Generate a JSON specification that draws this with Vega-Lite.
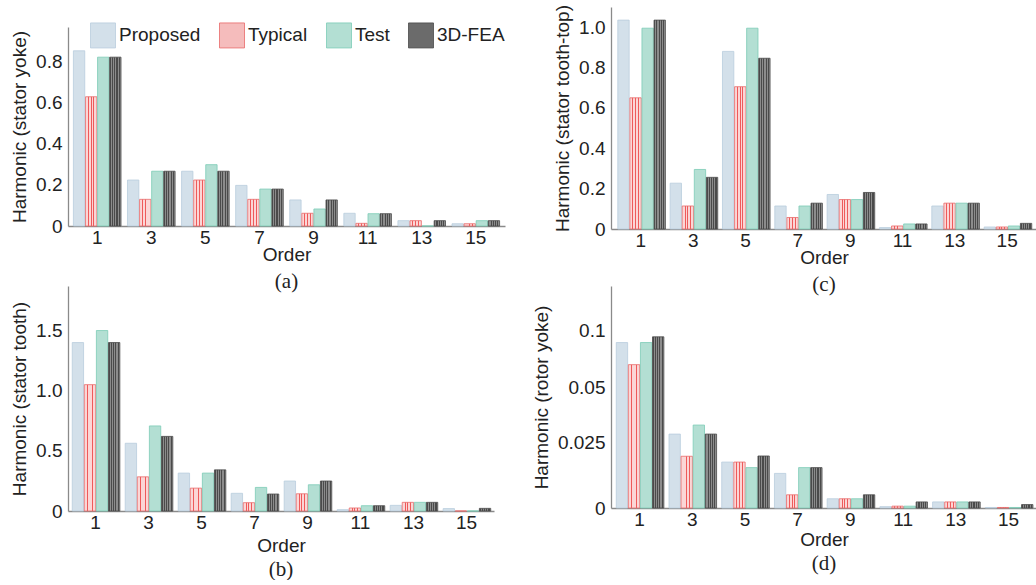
{
  "$schema": "https://vega.github.io/schema/vega-lite/v6.json",
  "padding": {"left": 10, "top": 4, "right": 0, "bottom": 0},
  "background": "white",
  "data": {"values": [
    {"panel": "a", "order": 1, "series": "Proposed", "value": 0.854},
    {"panel": "a", "order": 1, "series": "Typical", "value": 0.63},
    {"panel": "a", "order": 1, "series": "Test", "value": 0.823},
    {"panel": "a", "order": 1, "series": "3D-FEA", "value": 0.823},
    {"panel": "a", "order": 3, "series": "Proposed", "value": 0.224},
    {"panel": "a", "order": 3, "series": "Typical", "value": 0.13},
    {"panel": "a", "order": 3, "series": "Test", "value": 0.267},
    {"panel": "a", "order": 3, "series": "3D-FEA", "value": 0.267},
    {"panel": "a", "order": 5, "series": "Proposed", "value": 0.267},
    {"panel": "a", "order": 5, "series": "Typical", "value": 0.224},
    {"panel": "a", "order": 5, "series": "Test", "value": 0.299},
    {"panel": "a", "order": 5, "series": "3D-FEA", "value": 0.267},
    {"panel": "a", "order": 7, "series": "Proposed", "value": 0.198},
    {"panel": "a", "order": 7, "series": "Typical", "value": 0.13},
    {"panel": "a", "order": 7, "series": "Test", "value": 0.18},
    {"panel": "a", "order": 7, "series": "3D-FEA", "value": 0.18},
    {"panel": "a", "order": 9, "series": "Proposed", "value": 0.127},
    {"panel": "a", "order": 9, "series": "Typical", "value": 0.062},
    {"panel": "a", "order": 9, "series": "Test", "value": 0.083},
    {"panel": "a", "order": 9, "series": "3D-FEA", "value": 0.127},
    {"panel": "a", "order": 11, "series": "Proposed", "value": 0.062},
    {"panel": "a", "order": 11, "series": "Typical", "value": 0.013},
    {"panel": "a", "order": 11, "series": "Test", "value": 0.06},
    {"panel": "a", "order": 11, "series": "3D-FEA", "value": 0.06},
    {"panel": "a", "order": 13, "series": "Proposed", "value": 0.026},
    {"panel": "a", "order": 13, "series": "Typical", "value": 0.026},
    {"panel": "a", "order": 13, "series": "Test", "value": 0},
    {"panel": "a", "order": 13, "series": "3D-FEA", "value": 0.026},
    {"panel": "a", "order": 15, "series": "Proposed", "value": 0.011},
    {"panel": "a", "order": 15, "series": "Typical", "value": 0.011},
    {"panel": "a", "order": 15, "series": "Test", "value": 0.026},
    {"panel": "a", "order": 15, "series": "3D-FEA", "value": 0.026},

    {"panel": "c", "order": 1, "series": "Proposed", "value": 1.035},
    {"panel": "c", "order": 1, "series": "Typical", "value": 0.65},
    {"panel": "c", "order": 1, "series": "Test", "value": 0.995},
    {"panel": "c", "order": 1, "series": "3D-FEA", "value": 1.035},
    {"panel": "c", "order": 3, "series": "Proposed", "value": 0.227},
    {"panel": "c", "order": 3, "series": "Typical", "value": 0.114},
    {"panel": "c", "order": 3, "series": "Test", "value": 0.295},
    {"panel": "c", "order": 3, "series": "3D-FEA", "value": 0.256},
    {"panel": "c", "order": 5, "series": "Proposed", "value": 0.88},
    {"panel": "c", "order": 5, "series": "Typical", "value": 0.705},
    {"panel": "c", "order": 5, "series": "Test", "value": 0.995},
    {"panel": "c", "order": 5, "series": "3D-FEA", "value": 0.846},
    {"panel": "c", "order": 7, "series": "Proposed", "value": 0.114},
    {"panel": "c", "order": 7, "series": "Typical", "value": 0.057},
    {"panel": "c", "order": 7, "series": "Test", "value": 0.114},
    {"panel": "c", "order": 7, "series": "3D-FEA", "value": 0.128},
    {"panel": "c", "order": 9, "series": "Proposed", "value": 0.171},
    {"panel": "c", "order": 9, "series": "Typical", "value": 0.146},
    {"panel": "c", "order": 9, "series": "Test", "value": 0.146},
    {"panel": "c", "order": 9, "series": "3D-FEA", "value": 0.181},
    {"panel": "c", "order": 11, "series": "Proposed", "value": 0.007},
    {"panel": "c", "order": 11, "series": "Typical", "value": 0.015},
    {"panel": "c", "order": 11, "series": "Test", "value": 0.025},
    {"panel": "c", "order": 11, "series": "3D-FEA", "value": 0.025},
    {"panel": "c", "order": 13, "series": "Proposed", "value": 0.114},
    {"panel": "c", "order": 13, "series": "Typical", "value": 0.128},
    {"panel": "c", "order": 13, "series": "Test", "value": 0.128},
    {"panel": "c", "order": 13, "series": "3D-FEA", "value": 0.128},
    {"panel": "c", "order": 15, "series": "Proposed", "value": 0.01},
    {"panel": "c", "order": 15, "series": "Typical", "value": 0.01},
    {"panel": "c", "order": 15, "series": "Test", "value": 0.015},
    {"panel": "c", "order": 15, "series": "3D-FEA", "value": 0.028},

    {"panel": "b", "order": 1, "series": "Proposed", "value": 1.4},
    {"panel": "b", "order": 1, "series": "Typical", "value": 1.05},
    {"panel": "b", "order": 1, "series": "Test", "value": 1.5},
    {"panel": "b", "order": 1, "series": "3D-FEA", "value": 1.4},
    {"panel": "b", "order": 3, "series": "Proposed", "value": 0.563},
    {"panel": "b", "order": 3, "series": "Typical", "value": 0.284},
    {"panel": "b", "order": 3, "series": "Test", "value": 0.707},
    {"panel": "b", "order": 3, "series": "3D-FEA", "value": 0.62},
    {"panel": "b", "order": 5, "series": "Proposed", "value": 0.315},
    {"panel": "b", "order": 5, "series": "Typical", "value": 0.19},
    {"panel": "b", "order": 5, "series": "Test", "value": 0.315},
    {"panel": "b", "order": 5, "series": "3D-FEA", "value": 0.342},
    {"panel": "b", "order": 7, "series": "Proposed", "value": 0.147},
    {"panel": "b", "order": 7, "series": "Typical", "value": 0.069},
    {"panel": "b", "order": 7, "series": "Test", "value": 0.196},
    {"panel": "b", "order": 7, "series": "3D-FEA", "value": 0.141},
    {"panel": "b", "order": 9, "series": "Proposed", "value": 0.249},
    {"panel": "b", "order": 9, "series": "Typical", "value": 0.143},
    {"panel": "b", "order": 9, "series": "Test", "value": 0.218},
    {"panel": "b", "order": 9, "series": "3D-FEA", "value": 0.249},
    {"panel": "b", "order": 11, "series": "Proposed", "value": 0.011},
    {"panel": "b", "order": 11, "series": "Typical", "value": 0.025},
    {"panel": "b", "order": 11, "series": "Test", "value": 0.044},
    {"panel": "b", "order": 11, "series": "3D-FEA", "value": 0.044},
    {"panel": "b", "order": 13, "series": "Proposed", "value": 0.047},
    {"panel": "b", "order": 13, "series": "Typical", "value": 0.072},
    {"panel": "b", "order": 13, "series": "Test", "value": 0.072},
    {"panel": "b", "order": 13, "series": "3D-FEA", "value": 0.072},
    {"panel": "b", "order": 15, "series": "Proposed", "value": 0.02},
    {"panel": "b", "order": 15, "series": "Typical", "value": 0},
    {"panel": "b", "order": 15, "series": "Test", "value": 0},
    {"panel": "b", "order": 15, "series": "3D-FEA", "value": 0.022},

    {"panel": "d", "order": 1, "series": "Proposed", "value": 0.089},
    {"panel": "d", "order": 1, "series": "Typical", "value": 0.0696},
    {"panel": "d", "order": 1, "series": "Test", "value": 0.089},
    {"panel": "d", "order": 1, "series": "3D-FEA", "value": 0.094},
    {"panel": "d", "order": 3, "series": "Proposed", "value": 0.0286},
    {"panel": "d", "order": 3, "series": "Typical", "value": 0.0196},
    {"panel": "d", "order": 3, "series": "Test", "value": 0.0327},
    {"panel": "d", "order": 3, "series": "3D-FEA", "value": 0.0286},
    {"panel": "d", "order": 5, "series": "Proposed", "value": 0.0174},
    {"panel": "d", "order": 5, "series": "Typical", "value": 0.0174},
    {"panel": "d", "order": 5, "series": "Test", "value": 0.0153},
    {"panel": "d", "order": 5, "series": "3D-FEA", "value": 0.0197},
    {"panel": "d", "order": 7, "series": "Proposed", "value": 0.0131},
    {"panel": "d", "order": 7, "series": "Typical", "value": 0.005},
    {"panel": "d", "order": 7, "series": "Test", "value": 0.0153},
    {"panel": "d", "order": 7, "series": "3D-FEA", "value": 0.0153},
    {"panel": "d", "order": 9, "series": "Proposed", "value": 0.0035},
    {"panel": "d", "order": 9, "series": "Typical", "value": 0.0035},
    {"panel": "d", "order": 9, "series": "Test", "value": 0.0035},
    {"panel": "d", "order": 9, "series": "3D-FEA", "value": 0.005},
    {"panel": "d", "order": 11, "series": "Proposed", "value": 0.0005},
    {"panel": "d", "order": 11, "series": "Typical", "value": 0.0007},
    {"panel": "d", "order": 11, "series": "Test", "value": 0.0007},
    {"panel": "d", "order": 11, "series": "3D-FEA", "value": 0.0023},
    {"panel": "d", "order": 13, "series": "Proposed", "value": 0.0023},
    {"panel": "d", "order": 13, "series": "Typical", "value": 0.0023},
    {"panel": "d", "order": 13, "series": "Test", "value": 0.0023},
    {"panel": "d", "order": 13, "series": "3D-FEA", "value": 0.0023},
    {"panel": "d", "order": 15, "series": "Proposed", "value": 0.0002},
    {"panel": "d", "order": 15, "series": "Typical", "value": 0.0002},
    {"panel": "d", "order": 15, "series": "Test", "value": 0.0002},
    {"panel": "d", "order": 15, "series": "3D-FEA", "value": 0.0013}
  ]},
  "config": {
    "font": "Liberation Sans",
    "view": {"stroke": null},
    "axis": {
      "labelFont": "Liberation Sans", "labelFontSize": 19, "labelColor": "#222222",
      "titleFont": "Liberation Sans", "titleFontSize": 19, "titleFontWeight": "normal", "titleColor": "#222222",
      "domainColor": "#8a8a8a", "domainWidth": 1.3, "ticks": false, "grid": false
    },
    "axisX": {"labelPadding": 2, "titlePadding": -2, "labelAngle": 0},
    "axisY": {"labelPadding": 6, "titlePadding": 6},
    "title": {"font": "Liberation Serif", "fontSize": 21, "fontWeight": "normal", "color": "#222222", "orient": "bottom", "offset": 7, "frame": "group"},
    "bar": {"strokeWidth": 0.8}
  },
  "resolve": {"legend": {"fill": "independent", "stroke": "independent"}},
  "bounds": "flush",
  "columns": 2,
  "spacing": {"row": 57, "column": 106},
  "concat": [
    {
      "width": 437, "height": 219,
      "title": {"text": "(a)"},
      "transform": [{"filter": "datum.panel === 'a'"}],
      "mark": "bar",
      "encoding": {
        "x": {"field": "order", "type": "ordinal", "scale": {"paddingInner": 0.12, "paddingOuter": 0.1}, "axis": {"title": "Order"}},
        "xOffset": {"field": "series", "sort": ["Proposed", "Typical", "Test", "3D-FEA"], "scale": {"paddingInner": 0.06}},
        "y": {"field": "value", "type": "quantitative", "scale": {"domain": [0, 0.97], "range": [219, 20], "nice": false}, "axis": {"title": "Harmonic (stator yoke)", "values": [0, 0.2, 0.4, 0.6, 0.8], "labelExpr": "datum.value === 0 ? '0' : format(datum.value, '.1f')"}},
        "fill": {"field": "series", "type": "nominal",
          "condition": [
            {"test": "datum.series === '3D-FEA'", "value": {"gradient": "linear", "x1": 0, "x2": 1, "y1": 0, "y2": 0, "stops": [
              {"offset": 0, "color": "#4a4a4a"}, {"offset": 0.1, "color": "#4a4a4a"}, {"offset": 0.1, "color": "#8c8c8c"}, {"offset": 0.2, "color": "#8c8c8c"},
              {"offset": 0.2, "color": "#4a4a4a"}, {"offset": 0.3, "color": "#4a4a4a"}, {"offset": 0.3, "color": "#8c8c8c"}, {"offset": 0.4, "color": "#8c8c8c"},
              {"offset": 0.4, "color": "#4a4a4a"}, {"offset": 0.5, "color": "#4a4a4a"}, {"offset": 0.5, "color": "#8c8c8c"}, {"offset": 0.6, "color": "#8c8c8c"},
              {"offset": 0.6, "color": "#4a4a4a"}, {"offset": 0.7, "color": "#4a4a4a"}, {"offset": 0.7, "color": "#8c8c8c"}, {"offset": 0.8, "color": "#8c8c8c"},
              {"offset": 0.8, "color": "#4a4a4a"}, {"offset": 0.9, "color": "#4a4a4a"}, {"offset": 0.9, "color": "#8c8c8c"}, {"offset": 1, "color": "#8c8c8c"}]}},
            {"test": "datum.series === 'Typical'", "value": {"gradient": "linear", "x1": 0, "x2": 1, "y1": 0, "y2": 0, "stops": [
              {"offset": 0, "color": "#fbd6d6"}, {"offset": 0.22, "color": "#fbd6d6"}, {"offset": 0.22, "color": "#ee5a5a"}, {"offset": 0.3, "color": "#ee5a5a"},
              {"offset": 0.3, "color": "#fbd6d6"}, {"offset": 0.46, "color": "#fbd6d6"}, {"offset": 0.46, "color": "#ee5a5a"}, {"offset": 0.54, "color": "#ee5a5a"},
              {"offset": 0.54, "color": "#fbd6d6"}, {"offset": 0.7, "color": "#fbd6d6"}, {"offset": 0.7, "color": "#ee5a5a"}, {"offset": 0.78, "color": "#ee5a5a"},
              {"offset": 0.78, "color": "#fbd6d6"}, {"offset": 1, "color": "#fbd6d6"}]}}
          ],
          "scale": {"domain": ["Proposed", "Typical", "Test", "3D-FEA"], "range": ["#d3e0ea", "#f5bcbc", "#b3dfd3", "#6b6b6b"]},
          "legend": {"orient": "none", "legendX": 22, "legendY": 15, "direction": "horizontal", "columns": 4, "title": null,
            "symbolType": "square", "symbolSize": 625, "symbolStrokeWidth": 1, "symbolStrokeColor": "#c8d4de", "symbolOpacity": 1,
            "labelFont": "Liberation Sans", "labelFontSize": 19, "labelColor": "#222222", "labelOffset": 3, "columnPadding": 16, "padding": 0}},
        "stroke": {"field": "series", "type": "nominal",
          "scale": {"domain": ["Proposed", "Typical", "Test", "3D-FEA"], "range": ["#b9cddd", "#e86a6a", "#7ccbb6", "#4a4a4a"]}, "legend": null}
      }
    },
    {
      "width": 426, "height": 222,
      "title": {"text": "(c)"},
      "transform": [{"filter": "datum.panel === 'c'"}],
      "mark": "bar",
      "encoding": {
        "x": {"field": "order", "type": "ordinal", "scale": {"paddingInner": 0.12, "paddingOuter": 0.13}, "axis": {"title": "Order"}},
        "xOffset": {"field": "series", "sort": ["Proposed", "Typical", "Test", "3D-FEA"], "scale": {"paddingInner": 0.06}},
        "y": {"field": "value", "type": "quantitative", "scale": {"domain": [0, 1.1], "nice": false}, "axis": {"title": "Harmonic (stator tooth-top)", "values": [0, 0.2, 0.4, 0.6, 0.8, 1.0], "labelExpr": "datum.value === 0 ? '0' : format(datum.value, '.1f')"}},
        "fill": {"field": "series", "type": "nominal",
          "condition": [
            {"test": "datum.series === '3D-FEA'", "value": {"gradient": "linear", "x1": 0, "x2": 1, "y1": 0, "y2": 0, "stops": [
              {"offset": 0, "color": "#4a4a4a"}, {"offset": 0.1, "color": "#4a4a4a"}, {"offset": 0.1, "color": "#8c8c8c"}, {"offset": 0.2, "color": "#8c8c8c"},
              {"offset": 0.2, "color": "#4a4a4a"}, {"offset": 0.3, "color": "#4a4a4a"}, {"offset": 0.3, "color": "#8c8c8c"}, {"offset": 0.4, "color": "#8c8c8c"},
              {"offset": 0.4, "color": "#4a4a4a"}, {"offset": 0.5, "color": "#4a4a4a"}, {"offset": 0.5, "color": "#8c8c8c"}, {"offset": 0.6, "color": "#8c8c8c"},
              {"offset": 0.6, "color": "#4a4a4a"}, {"offset": 0.7, "color": "#4a4a4a"}, {"offset": 0.7, "color": "#8c8c8c"}, {"offset": 0.8, "color": "#8c8c8c"},
              {"offset": 0.8, "color": "#4a4a4a"}, {"offset": 0.9, "color": "#4a4a4a"}, {"offset": 0.9, "color": "#8c8c8c"}, {"offset": 1, "color": "#8c8c8c"}]}},
            {"test": "datum.series === 'Typical'", "value": {"gradient": "linear", "x1": 0, "x2": 1, "y1": 0, "y2": 0, "stops": [
              {"offset": 0, "color": "#fbd6d6"}, {"offset": 0.22, "color": "#fbd6d6"}, {"offset": 0.22, "color": "#ee5a5a"}, {"offset": 0.3, "color": "#ee5a5a"},
              {"offset": 0.3, "color": "#fbd6d6"}, {"offset": 0.46, "color": "#fbd6d6"}, {"offset": 0.46, "color": "#ee5a5a"}, {"offset": 0.54, "color": "#ee5a5a"},
              {"offset": 0.54, "color": "#fbd6d6"}, {"offset": 0.7, "color": "#fbd6d6"}, {"offset": 0.7, "color": "#ee5a5a"}, {"offset": 0.78, "color": "#ee5a5a"},
              {"offset": 0.78, "color": "#fbd6d6"}, {"offset": 1, "color": "#fbd6d6"}]}}
          ],
          "scale": {"domain": ["Proposed", "Typical", "Test", "3D-FEA"], "range": ["#d3e0ea", "#f5bcbc", "#b3dfd3", "#6b6b6b"]}, "legend": null},
        "stroke": {"field": "series", "type": "nominal",
          "scale": {"domain": ["Proposed", "Typical", "Test", "3D-FEA"], "range": ["#b9cddd", "#e86a6a", "#7ccbb6", "#4a4a4a"]}, "legend": null}
      }
    },
    {
      "width": 426, "height": 225,
      "title": {"text": "(b)", "offset": 4},
      "transform": [{"filter": "datum.panel === 'b'"}],
      "mark": "bar",
      "encoding": {
        "x": {"field": "order", "type": "ordinal", "scale": {"paddingInner": 0.12, "paddingOuter": 0.08}, "axis": {"title": "Order", "titlePadding": 4}},
        "xOffset": {"field": "series", "sort": ["Proposed", "Typical", "Test", "3D-FEA"], "scale": {"paddingInner": 0.06}},
        "y": {"field": "value", "type": "quantitative", "scale": {"domain": [0, 1.87], "nice": false}, "axis": {"title": "Harmonic (stator tooth)", "values": [0, 0.5, 1.0, 1.5], "labelExpr": "datum.value === 0 ? '0' : format(datum.value, '.1f')"}},
        "fill": {"field": "series", "type": "nominal",
          "condition": [
            {"test": "datum.series === '3D-FEA'", "value": {"gradient": "linear", "x1": 0, "x2": 1, "y1": 0, "y2": 0, "stops": [
              {"offset": 0, "color": "#4a4a4a"}, {"offset": 0.1, "color": "#4a4a4a"}, {"offset": 0.1, "color": "#8c8c8c"}, {"offset": 0.2, "color": "#8c8c8c"},
              {"offset": 0.2, "color": "#4a4a4a"}, {"offset": 0.3, "color": "#4a4a4a"}, {"offset": 0.3, "color": "#8c8c8c"}, {"offset": 0.4, "color": "#8c8c8c"},
              {"offset": 0.4, "color": "#4a4a4a"}, {"offset": 0.5, "color": "#4a4a4a"}, {"offset": 0.5, "color": "#8c8c8c"}, {"offset": 0.6, "color": "#8c8c8c"},
              {"offset": 0.6, "color": "#4a4a4a"}, {"offset": 0.7, "color": "#4a4a4a"}, {"offset": 0.7, "color": "#8c8c8c"}, {"offset": 0.8, "color": "#8c8c8c"},
              {"offset": 0.8, "color": "#4a4a4a"}, {"offset": 0.9, "color": "#4a4a4a"}, {"offset": 0.9, "color": "#8c8c8c"}, {"offset": 1, "color": "#8c8c8c"}]}},
            {"test": "datum.series === 'Typical'", "value": {"gradient": "linear", "x1": 0, "x2": 1, "y1": 0, "y2": 0, "stops": [
              {"offset": 0, "color": "#fbd6d6"}, {"offset": 0.22, "color": "#fbd6d6"}, {"offset": 0.22, "color": "#ee5a5a"}, {"offset": 0.3, "color": "#ee5a5a"},
              {"offset": 0.3, "color": "#fbd6d6"}, {"offset": 0.46, "color": "#fbd6d6"}, {"offset": 0.46, "color": "#ee5a5a"}, {"offset": 0.54, "color": "#ee5a5a"},
              {"offset": 0.54, "color": "#fbd6d6"}, {"offset": 0.7, "color": "#fbd6d6"}, {"offset": 0.7, "color": "#ee5a5a"}, {"offset": 0.78, "color": "#ee5a5a"},
              {"offset": 0.78, "color": "#fbd6d6"}, {"offset": 1, "color": "#fbd6d6"}]}}
          ],
          "scale": {"domain": ["Proposed", "Typical", "Test", "3D-FEA"], "range": ["#d3e0ea", "#f5bcbc", "#b3dfd3", "#6b6b6b"]}, "legend": null},
        "stroke": {"field": "series", "type": "nominal",
          "scale": {"domain": ["Proposed", "Typical", "Test", "3D-FEA"], "range": ["#b9cddd", "#e86a6a", "#7ccbb6", "#4a4a4a"]}, "legend": null}
      }
    },
    {
      "width": 426, "height": 222,
      "title": {"text": "(d)", "offset": 4},
      "transform": [{"filter": "datum.panel === 'd'"}],
      "mark": "bar",
      "encoding": {
        "x": {"field": "order", "type": "ordinal", "scale": {"paddingInner": 0.12, "paddingOuter": 0.1}, "axis": {"title": "Order", "titlePadding": 1}},
        "xOffset": {"field": "series", "sort": ["Proposed", "Typical", "Test", "3D-FEA"], "scale": {"paddingInner": 0.06}},
        "y": {"field": "value", "type": "quantitative", "scale": {"domain": [0, 0.025, 0.05, 0.1, 0.1386], "range": [222, 156, 101, 44, 0]}, "axis": {"title": "Harmonic (rotor yoke)", "values": [0, 0.025, 0.05, 0.1], "labelExpr": "datum.value === 0 ? '0' : datum.value === 0.025 ? '0.025' : datum.value === 0.05 ? '0.05' : '0.1'"}},
        "fill": {"field": "series", "type": "nominal",
          "condition": [
            {"test": "datum.series === '3D-FEA'", "value": {"gradient": "linear", "x1": 0, "x2": 1, "y1": 0, "y2": 0, "stops": [
              {"offset": 0, "color": "#4a4a4a"}, {"offset": 0.1, "color": "#4a4a4a"}, {"offset": 0.1, "color": "#8c8c8c"}, {"offset": 0.2, "color": "#8c8c8c"},
              {"offset": 0.2, "color": "#4a4a4a"}, {"offset": 0.3, "color": "#4a4a4a"}, {"offset": 0.3, "color": "#8c8c8c"}, {"offset": 0.4, "color": "#8c8c8c"},
              {"offset": 0.4, "color": "#4a4a4a"}, {"offset": 0.5, "color": "#4a4a4a"}, {"offset": 0.5, "color": "#8c8c8c"}, {"offset": 0.6, "color": "#8c8c8c"},
              {"offset": 0.6, "color": "#4a4a4a"}, {"offset": 0.7, "color": "#4a4a4a"}, {"offset": 0.7, "color": "#8c8c8c"}, {"offset": 0.8, "color": "#8c8c8c"},
              {"offset": 0.8, "color": "#4a4a4a"}, {"offset": 0.9, "color": "#4a4a4a"}, {"offset": 0.9, "color": "#8c8c8c"}, {"offset": 1, "color": "#8c8c8c"}]}},
            {"test": "datum.series === 'Typical'", "value": {"gradient": "linear", "x1": 0, "x2": 1, "y1": 0, "y2": 0, "stops": [
              {"offset": 0, "color": "#fbd6d6"}, {"offset": 0.22, "color": "#fbd6d6"}, {"offset": 0.22, "color": "#ee5a5a"}, {"offset": 0.3, "color": "#ee5a5a"},
              {"offset": 0.3, "color": "#fbd6d6"}, {"offset": 0.46, "color": "#fbd6d6"}, {"offset": 0.46, "color": "#ee5a5a"}, {"offset": 0.54, "color": "#ee5a5a"},
              {"offset": 0.54, "color": "#fbd6d6"}, {"offset": 0.7, "color": "#fbd6d6"}, {"offset": 0.7, "color": "#ee5a5a"}, {"offset": 0.78, "color": "#ee5a5a"},
              {"offset": 0.78, "color": "#fbd6d6"}, {"offset": 1, "color": "#fbd6d6"}]}}
          ],
          "scale": {"domain": ["Proposed", "Typical", "Test", "3D-FEA"], "range": ["#d3e0ea", "#f5bcbc", "#b3dfd3", "#6b6b6b"]}, "legend": null},
        "stroke": {"field": "series", "type": "nominal",
          "scale": {"domain": ["Proposed", "Typical", "Test", "3D-FEA"], "range": ["#b9cddd", "#e86a6a", "#7ccbb6", "#4a4a4a"]}, "legend": null}
      }
    }
  ]
}
